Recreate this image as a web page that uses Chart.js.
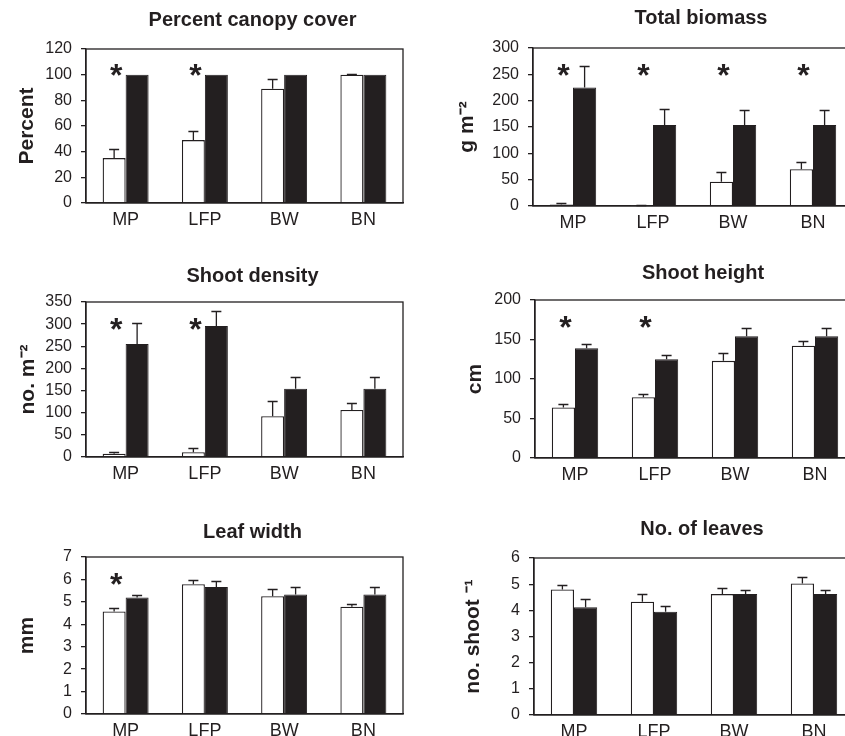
<!DOCTYPE html>
<html>
<head>
<meta charset="utf-8">
<script src="https://cdn.jsdelivr.net/npm/chart.js@4.4.1/dist/chart.umd.min.js"></script>
<style>
html, body { margin: 0; padding: 0; background: #fff; overflow: hidden; }
#wrap { position: relative; width: 845px; height: 736px; overflow: hidden; }
#wrap canvas { position: absolute; }
</style>
</head>
<body>
<div id="wrap"></div>
<script>
// sites
const sites = ['MP', 'LFP', 'BW', 'BN'];

// Percent canopy cover
const canopyWhite = [35, 49, 89, 100];
const canopyWhiteErr = [7, 7, 8, 0.4];
const canopyBlack = [100, 100, 100, 100];
const canopyBlackErr = [0, 0, 0, 0];
const canopySig = [true, true, false, false];

// Total biomass (g m-2)
const biomassWhite = [3, 1, 46, 70];
const biomassWhiteErr = [2, 0.5, 18, 14];
const biomassBlack = [225, 154, 154, 154];
const biomassBlackErr = [40, 31, 29, 29];
const biomassSig = [true, true, true, true];

// Shoot density (no. m-2)
const densityWhite = [7.5, 11, 92, 106];
const densityWhiteErr = [3.5, 10, 34, 16];
const densityBlack = [255, 296, 154, 154];
const densityBlackErr = [48, 34, 27, 27];
const densitySig = [true, true, false, false];

// Shoot height (cm)
const heightWhite = [64, 77, 123, 142];
const heightWhiteErr = [4, 4, 10, 6.5];
const heightBlack = [139, 125, 154, 154];
const heightBlackErr = [5.5, 5.5, 11, 11];
const heightSig = [true, true, false, false];

// Leaf width (mm)
const widthWhite = [4.57, 5.79, 5.25, 4.78];
const widthWhiteErr = [0.14, 0.19, 0.32, 0.13];
const widthBlack = [5.19, 5.66, 5.33, 5.33];
const widthBlackErr = [0.11, 0.27, 0.32, 0.32];
const widthSig = [true, false, false, false];

// No. of leaves (no. shoot-1)
const leavesWhite = [4.8, 4.33, 4.62, 5.03];
const leavesWhiteErr = [0.17, 0.29, 0.22, 0.24];
const leavesBlack = [4.12, 3.95, 4.62, 4.62];
const leavesBlackErr = [0.33, 0.22, 0.17, 0.17];
const leavesSig = [false, false, false, false];

// y axis ranges
const yMax = [120, 300, 350, 200, 7, 6];
const yStep = [20, 50, 50, 50, 1, 1];

const INK = '#231f20';
Chart.defaults.font.family = '"Liberation Sans", Arial, sans-serif';
Chart.defaults.color = INK;

const panels = [
  { title: 'Percent canopy cover', yTitle: 'Percent', white: canopyWhite, whiteErr: canopyWhiteErr, black: canopyBlack, blackErr: canopyBlackErr, sig: canopySig,
    cx: 0, left: 86, top: 49, bottom: 203, right: 403, gap: 29, yTitleX: 27 },
  { title: 'Total biomass', yTitle: 'g m⁻²', white: biomassWhite, whiteErr: biomassWhiteErr, black: biomassBlack, blackErr: biomassBlackErr, sig: biomassSig,
    cx: 440, left: 533, top: 48, bottom: 206, right: 853, gap: 30, yTitleX: 467 },
  { title: 'Shoot density', yTitle: 'no. m⁻²', white: densityWhite, whiteErr: densityWhiteErr, black: densityBlack, blackErr: densityBlackErr, sig: densitySig,
    cx: 0, left: 86, top: 302, bottom: 457, right: 403, gap: 26, yTitleX: 28 },
  { title: 'Shoot height', yTitle: 'cm', white: heightWhite, whiteErr: heightWhiteErr, black: heightBlack, blackErr: heightBlackErr, sig: heightSig,
    cx: 440, left: 535, top: 300, bottom: 458, right: 855, gap: 27, yTitleX: 475 },
  { title: 'Leaf width', yTitle: 'mm', white: widthWhite, whiteErr: widthWhiteErr, black: widthBlack, blackErr: widthBlackErr, sig: widthSig,
    cx: 0, left: 86, top: 557, bottom: 714, right: 403, gap: 25, yTitleX: 27 },
  { title: 'No. of leaves', yTitle: 'no. shoot ⁻¹', white: leavesWhite, whiteErr: leavesWhiteErr, black: leavesBlack, blackErr: leavesBlackErr, sig: leavesSig,
    cx: 440, left: 534, top: 558, bottom: 715, right: 854, gap: 29, yTitleX: 473 }
];

// error bars, frame, title and asterisks
const extras = {
  id: 'extras',
  afterDatasetsDraw(chart, args, opts) {
    const ctx = chart.ctx;
    const y = chart.scales.y;
    const a = chart.chartArea;
    ctx.save();
    ctx.strokeStyle = INK;
    ctx.lineWidth = 1.3;
    chart.data.datasets.forEach((ds, d) => {
      const meta = chart.getDatasetMeta(d);
      meta.data.forEach((bar, j) => {
        const e = ds.errors[j];
        if (!e) return;
        const top = Math.round(y.getPixelForValue(ds.data[j] + e)) + 0.5;
        ctx.beginPath();
        ctx.moveTo(bar.x, bar.y);
        ctx.lineTo(bar.x, top);
        ctx.moveTo(bar.x - 5, top);
        ctx.lineTo(bar.x + 5, top);
        ctx.stroke();
      });
    });
    // frame
    ctx.strokeRect(a.left, a.top, a.right - a.left, a.bottom - a.top);
    // asterisks
    const m0 = chart.getDatasetMeta(0);
    ctx.fillStyle = INK;
    ctx.font = 'bold 32px "Liberation Sans", Arial, sans-serif';
    ctx.textAlign = 'center';
    ctx.textBaseline = 'alphabetic';
    const sy = a.top + 0.12 * (a.bottom - a.top);
    opts.sig.forEach((s, j) => {
      if (s) ctx.fillText('*', m0.data[j].x + 2, sy + 19);
    });
    // panel title
    ctx.font = 'bold 20px "Liberation Sans", Arial, sans-serif';
    ctx.textBaseline = 'middle';
    ctx.fillText(opts.title, (a.left + a.right) / 2 + 8, a.top - opts.gap);
    ctx.restore();
  }
};

const wrap = document.getElementById('wrap');
const padTop = 46, xAxisH = 30;

panels.forEach((p, i) => {
  const c = document.createElement('canvas');
  const w = p.right + 12 - p.cx;
  const h = p.bottom - p.top + padTop + xAxisH;
  c.width = w; c.height = h;
  c.style.left = p.cx + 'px';
  c.style.top = (p.top - padTop) + 'px';
  wrap.appendChild(c);

  new Chart(c.getContext('2d'), {
    type: 'bar',
    data: {
      labels: sites,
      datasets: [
        { data: p.white, errors: p.whiteErr, backgroundColor: '#fff', borderColor: INK, borderWidth: 1.3 },
        { data: p.black, errors: p.blackErr, backgroundColor: INK, borderColor: INK, borderWidth: 1 }
      ]
    },
    options: {
      responsive: false,
      animation: false,
      categoryPercentage: 0.58,
      barPercentage: 1,
      layout: { padding: { top: padTop, left: 0, right: w - (p.right - p.cx), bottom: 0 } },
      plugins: {
        legend: { display: false },
        tooltip: { enabled: false },
        extras: { sig: p.sig, title: p.title, gap: p.gap }
      },
      scales: {
        x: {
          grid: { display: false, drawTicks: false },
          border: { display: true, color: INK, width: 1.3 },
          ticks: { padding: 6, font: { size: 18 }, color: INK },
          afterFit(s) { s.height = xAxisH; }
        },
        y: {
          min: 0, max: yMax[i],
          grid: { display: true, drawOnChartArea: false, drawTicks: true, tickLength: 5, color: INK, lineWidth: 1.3 },
          border: { display: true, color: INK, width: 1.3 },
          ticks: { stepSize: yStep[i], autoSkip: false, padding: 9, font: { size: 16 }, color: INK },
          title: { display: true, text: p.yTitle, font: { size: 21, weight: 'bold' }, color: INK,
                   padding: { top: p.yTitleX - p.cx - 12.6, bottom: 0 } },
          afterFit(s) { s.width = p.left - p.cx; }
        }
      }
    },
    plugins: [extras]
  });
});
</script>
</body>
</html>
